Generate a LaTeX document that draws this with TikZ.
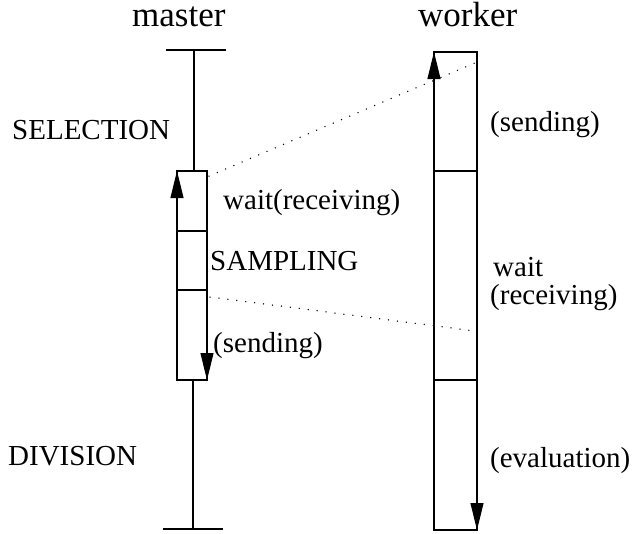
\documentclass[tikz,border=0pt]{standalone}
\usepackage{fontspec}
\setmainfont{Liberation Serif}
\usetikzlibrary{arrows.meta}
\tikzset{
  lbl/.style={inner sep=0pt, anchor=base west, font=\fontsize{29}{32}\selectfont},
  head/.style={inner sep=0pt, anchor=base west, font=\fontsize{35}{38}\selectfont},
  ln/.style={line width=1.1pt, black},
  arr/.style={line width=1.1pt, -{Triangle[width=13pt,length=27pt]}},
  msg/.style={line width=1.5pt, line cap=round, dash pattern=on 0pt off 9pt}
}
\begin{document}
\begin{tikzpicture}[x=1pt,y=-1pt]
\useasboundingbox (0,0) rectangle (634,533);
% coordinates
\coordinate (mt1) at (166,50); \coordinate (mt2) at (226,50);
\coordinate (mtop) at (194,50); \coordinate (mbt) at (194,171);
\coordinate (mbb) at (193,380); \coordinate (mbot) at (193,529);
\coordinate (mb1) at (163,529); \coordinate (mb2) at (223,529);
\coordinate (mNW) at (177,171); \coordinate (mSE) at (207,380);
\coordinate (md1a) at (177,231); \coordinate (md1b) at (207,231);
\coordinate (md2a) at (177,290); \coordinate (md2b) at (207,290);
\coordinate (mNE) at (207,171); \coordinate (mSW) at (177,380);
\coordinate (wNW) at (434,52); \coordinate (wSE) at (477,530);
\coordinate (wNE) at (477,52); \coordinate (wSW) at (434,530);
\coordinate (wd1a) at (434,171); \coordinate (wd1b) at (477,171);
\coordinate (wd2a) at (434,380); \coordinate (wd2b) at (477,380);
\coordinate (s1a) at (209,176); \coordinate (s1b) at (477,62);
\coordinate (s2a) at (210,297); \coordinate (s2b) at (475,331);
% master lifeline
\draw[ln] (mt1) -- (mt2);
\draw[ln] (mtop) -- (mbt);
\draw[ln] (mbb) -- (mbot);
\draw[ln] (mb1) -- (mb2);
\draw[ln] (mNW) rectangle (mSE);
\draw[ln] (md1a) -- (md1b);
\draw[ln] (md2a) -- (md2b);
\draw[arr] (mSW) -- (mNW);
\draw[arr] (mNE) -- (mSE);
% worker lifeline
\draw[ln] (wNW) rectangle (wSE);
\draw[ln] (wd1a) -- (wd1b);
\draw[ln] (wd2a) -- (wd2b);
\draw[arr] (wSW) -- (wNW);
\draw[arr] (wNE) -- (wSE);
% messages
\draw[msg] (s1a) -- (s1b);
\draw[msg] (s2a) -- (s2b);
% labels
\node[head] (hm) at (132,26) {master};
\node[head] (hw) at (418,26) {worker};
\node[lbl] (sel) at (12,139) {SELECTION};
\node[lbl] (wr) at (223,209) {wait(receiving)};
\node[lbl] (samp) at (210,270) {SAMPLING};
\node[lbl] (msend) at (213,352) {(sending)};
\node[lbl] (div) at (8,465) {DIVISION};
\node[lbl] (wsend) at (490,131) {(sending)};
\node[lbl] (wwait) at (493,276) {wait};
\node[lbl] (wrec) at (490,304) {(receiving)};
\node[lbl] (weval) at (490,467) {(evaluation)};
\end{tikzpicture}
\end{document}
